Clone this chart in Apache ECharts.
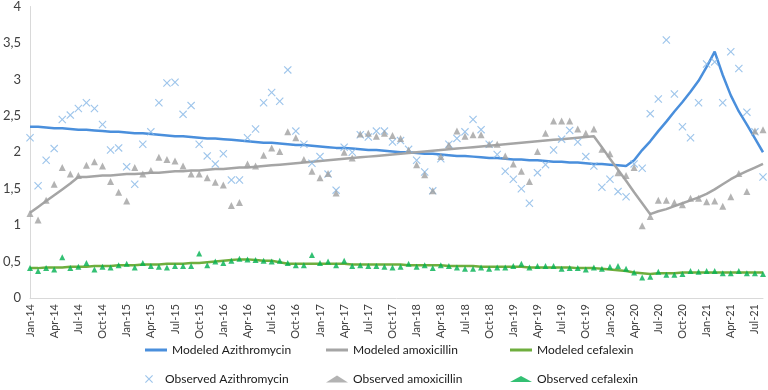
<!DOCTYPE html>
<html>
<head>
<meta charset="utf-8">
<script src="https://cdn.jsdelivr.net/npm/echarts@6/dist/echarts.min.js"></script>
<style>
html, body { margin: 0; padding: 0; background: #fff; }
#chart { width: 768px; height: 390px; }
</style>
</head>
<body>
<div id="chart"></div>
<script>
// months Jan-14 .. Aug-21
var monthNames = ['Jan', 'Feb', 'Mar', 'Apr', 'May', 'Jun', 'Jul', 'Aug', 'Sep', 'Oct', 'Nov', 'Dec'];
var years = ['14', '15', '16', '17', '18', '19', '20', '21'];
var months = [];
years.forEach(function (y) {
    monthNames.forEach(function (m) { months.push(m + '-' + y); });
});
months = months.slice(0, 92);

var modeledAzi = [
    2.35, 2.35, 2.34, 2.33, 2.33, 2.32, 2.31, 2.31, 2.30, 2.29,
    2.28, 2.28, 2.27, 2.26, 2.26, 2.25, 2.24, 2.23, 2.22, 2.22,
    2.21, 2.20, 2.19, 2.19, 2.18, 2.17, 2.16, 2.15, 2.14, 2.13,
    2.13, 2.12, 2.11, 2.10, 2.10, 2.09, 2.08, 2.07, 2.06, 2.06,
    2.05, 2.04, 2.03, 2.03, 2.02, 2.01, 2.00, 2.00, 1.99, 1.98,
    1.98, 1.97, 1.96, 1.95, 1.95, 1.94, 1.93, 1.92, 1.92, 1.91,
    1.90, 1.90, 1.89, 1.89, 1.88, 1.87, 1.87, 1.86, 1.86, 1.85,
    1.84, 1.84, 1.83, 1.82, 1.81, 1.89, 2.03, 2.15, 2.29, 2.42,
    2.56, 2.69, 2.83, 2.98, 3.17, 3.38, 3.06, 2.78, 2.56, 2.38,
    2.19, 2.00
];
var modeledAmox = [
    1.17, 1.25, 1.33, 1.41, 1.49, 1.57, 1.66, 1.66, 1.67, 1.68,
    1.68, 1.69, 1.70, 1.70, 1.71, 1.72, 1.72, 1.73, 1.74, 1.74,
    1.75, 1.75, 1.76, 1.77, 1.77, 1.78, 1.79, 1.79, 1.80, 1.81,
    1.82, 1.83, 1.84, 1.85, 1.86, 1.87, 1.88, 1.89, 1.90, 1.91,
    1.92, 1.93, 1.94, 1.95, 1.96, 1.97, 1.98, 1.99, 2.00, 2.01,
    2.02, 2.03, 2.04, 2.05, 2.06, 2.07, 2.08, 2.09, 2.10, 2.11,
    2.12, 2.13, 2.14, 2.15, 2.16, 2.17, 2.18, 2.19, 2.20, 2.21,
    2.22, 2.07, 1.91, 1.76, 1.61, 1.45, 1.30, 1.15, 1.19, 1.22,
    1.26, 1.30, 1.34, 1.38, 1.43, 1.49, 1.56, 1.63, 1.69, 1.74,
    1.79, 1.84
];
var modeledCef = [
    0.41, 0.41, 0.42, 0.42, 0.42, 0.43, 0.43, 0.43, 0.44, 0.44,
    0.44, 0.45, 0.45, 0.45, 0.46, 0.46, 0.46, 0.47, 0.47, 0.47,
    0.48, 0.48, 0.49, 0.50, 0.51, 0.52, 0.53, 0.53, 0.52, 0.51,
    0.51, 0.49, 0.47, 0.47, 0.47, 0.47, 0.47, 0.47, 0.47, 0.47,
    0.46, 0.46, 0.46, 0.46, 0.46, 0.46, 0.46, 0.45, 0.45, 0.45,
    0.45, 0.45, 0.44, 0.44, 0.44, 0.44, 0.43, 0.43, 0.43, 0.43,
    0.43, 0.43, 0.42, 0.42, 0.42, 0.42, 0.42, 0.42, 0.41, 0.41,
    0.41, 0.40, 0.39, 0.38, 0.37, 0.35, 0.34, 0.33, 0.34, 0.34,
    0.34, 0.35, 0.35, 0.35, 0.35, 0.35, 0.35, 0.35, 0.35, 0.35,
    0.35, 0.35
];
var observedAzi = [
    2.20, 1.54, 1.89, 2.05, 2.45, 2.51, 2.60, 2.68, 2.60, 2.38,
    2.03, 2.06, 1.80, 1.56, 2.11, 2.28, 2.68, 2.95, 2.96, 2.52,
    2.64, 2.11, 1.95, 1.84, 1.98, 1.62, 1.62, 2.20, 2.32, 2.68,
    2.82, 2.70, 3.13, 2.29, 2.11, 1.85, 1.94, 1.70, 1.48, 2.07,
    2.00, 2.24, 2.21, 2.29, 2.29, 2.14, 2.16, 2.04, 1.89, 1.73,
    1.47, 1.91, 2.11, 2.19, 2.28, 2.45, 2.31, 2.11, 1.97, 1.74,
    1.63, 1.50, 1.30, 1.72, 1.83, 2.03, 2.18, 2.30, 2.14, 1.94,
    1.81, 1.52, 1.63, 1.46, 1.39, 1.84, 1.78, 2.53, 2.73, 3.54,
    2.80, 2.35, 2.20, 2.68, 3.21, 3.24, 2.68, 3.38, 3.15, 2.55,
    2.28, 1.66
];
var observedAmox = [
    1.16, 1.07, 1.34, 1.56, 1.79, 1.70, 1.68, 1.82, 1.87, 1.81,
    1.60, 1.45, 1.33, 1.79, 1.70, 1.75, 1.93, 1.90, 1.88, 1.81,
    1.70, 1.70, 1.65, 1.59, 1.55, 1.27, 1.31, 1.84, 1.81, 1.96,
    2.06, 2.01, 2.28, 2.20, 1.90, 1.74, 1.65, 1.71, 1.44, 2.00,
    1.92, 2.25, 2.26, 2.22, 2.26, 2.23, 2.19, 2.03, 1.83, 1.69,
    1.47, 1.94, 2.10, 2.29, 2.22, 2.24, 2.24, 2.11, 2.11, 1.95,
    1.84, 1.74, 1.60, 2.01, 2.26, 2.43, 2.43, 2.43, 2.32, 2.26,
    2.32, 2.04, 1.98, 1.72, 1.68, 1.79, 0.99, 1.12, 1.34, 1.34,
    1.31, 1.28, 1.37, 1.37, 1.32, 1.33, 1.26, 1.39, 1.71, 1.46,
    2.29, 2.31
];
var observedCef = [
    0.41, 0.37, 0.41, 0.39, 0.56, 0.41, 0.43, 0.48, 0.39, 0.43,
    0.42, 0.45, 0.47, 0.42, 0.48, 0.44, 0.43, 0.42, 0.44, 0.44,
    0.44, 0.61, 0.45, 0.50, 0.48, 0.51, 0.54, 0.53, 0.52, 0.51,
    0.50, 0.51, 0.48, 0.45, 0.45, 0.59, 0.48, 0.50, 0.45, 0.51,
    0.44, 0.45, 0.44, 0.44, 0.43, 0.42, 0.43, 0.47, 0.43, 0.45,
    0.41, 0.45, 0.44, 0.42, 0.40, 0.40, 0.42, 0.40, 0.42, 0.42,
    0.44, 0.47, 0.42, 0.44, 0.44, 0.44, 0.40, 0.41, 0.41, 0.39,
    0.42, 0.40, 0.43, 0.44, 0.40, 0.35, 0.28, 0.29, 0.36, 0.32,
    0.32, 0.33, 0.37, 0.36, 0.37, 0.37, 0.34, 0.34, 0.37, 0.34,
    0.34, 0.33
];

var xPath = 'path://M1,0 L5,4 L9,0 L10,1 L6,5 L10,9 L9,10 L5,6 L1,10 L0,9 L4,5 L0,1 Z';
var fontFamily = 'Lato, "Liberation Sans", sans-serif';

function pairs(vals) {
    return vals.map(function (v, i) { return [months[i], v]; });
}

function lineSeries(name, vals, color) {
    return {
        name: name,
        type: 'line',
        data: vals,
        symbol: 'none',
        smooth: false,
        lineStyle: { color: color, width: 2.5 },
        itemStyle: { color: color },
        z: 2
    };
}

function scatterSeries(name, vals, symbol, size, color) {
    return {
        name: name,
        type: 'scatter',
        data: pairs(vals),
        symbol: symbol,
        symbolSize: size,
        itemStyle: { color: color },
        z: 3
    };
}

function legendBox(name, left, top, icon, h) {
    return {
        data: [{ name: name, icon: icon }],
        left: left,
        top: top,
        itemWidth: 22,
        itemHeight: h,
        selectedMode: false,
        padding: 0,
        textStyle: { fontFamily: fontFamily, fontSize: 12, color: '#1a1a1a' }
    };
}

var myChart = echarts.init(document.getElementById('chart'));
var option = {
    backgroundColor: '#fff',
    animation: false,
    grid: { left: 27, right: 5, top: 6, bottom: 92 },
    legend: [
        legendBox('Modeled Azithromycin', 145, 344, 'rect', 3),
        legendBox('Modeled amoxicillin', 326, 344, 'rect', 3),
        legendBox('Modeled cefalexin', 510, 344, 'rect', 3),
        legendBox('Observed Azithromycin', 145, 373, xPath, 8),
        legendBox('Observed amoxicillin', 326, 373, 'triangle', 7),
        legendBox('Observed cefalexin', 510, 373, 'triangle', 6)
    ],
    xAxis: {
        type: 'category',
        data: months,
        boundaryGap: false,
        axisTick: { show: false },
        axisLine: { lineStyle: { color: '#d9d9d9', width: 1 } },
        axisLabel: {
            interval: 2,
            rotate: 90,
            margin: 6,
            fontFamily: fontFamily,
            fontSize: 11,
            color: '#404040'
        },
        splitLine: { show: false }
    },
    yAxis: {
        type: 'value',
        min: 0,
        max: 4,
        interval: 0.5,
        axisLine: { show: true, lineStyle: { color: '#d9d9d9', width: 1 } },
        axisTick: { show: false },
        splitLine: { show: false },
        axisLabel: {
            margin: 9,
            fontFamily: fontFamily,
            fontSize: 13,
            color: '#404040',
            formatter: function (v) { return String(v).replace('.', ','); }
        }
    },
    series: [
        lineSeries('Modeled Azithromycin', modeledAzi, '#4a8fdc'),
        lineSeries('Modeled amoxicillin', modeledAmox, '#a5a5a5'),
        lineSeries('Modeled cefalexin', modeledCef, '#6fae3e'),
        scatterSeries('Observed Azithromycin', observedAzi, xPath, 8, '#86b6e6'),
        scatterSeries('Observed amoxicillin', observedAmox, 'triangle', 7, '#a0a0a0'),
        scatterSeries('Observed cefalexin', observedCef, 'triangle', 6, '#00b050')
    ]
};
myChart.setOption(option);
</script>
</body>
</html>
